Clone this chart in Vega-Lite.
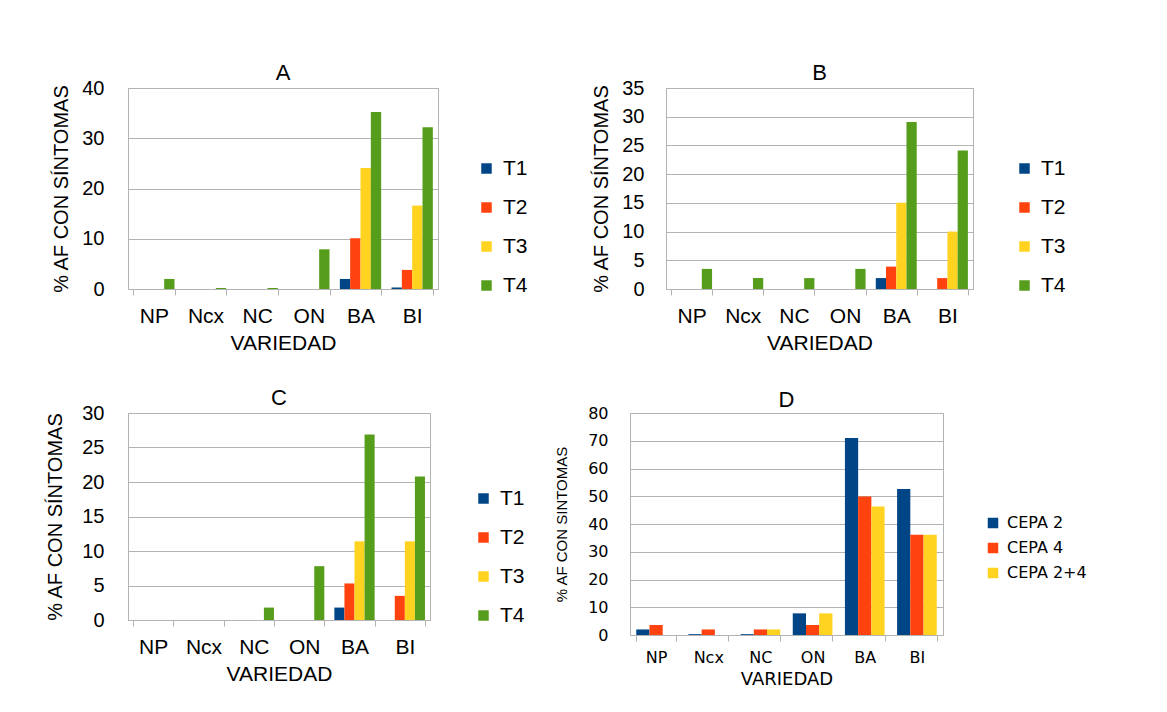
{
  "$schema": "https://vega.github.io/schema/vega-lite/v6.json",
  "background": "white",
  "padding": {"left": 45, "top": 61, "right": 5, "bottom": 5},
  "config": {
    "font": "Liberation Sans",
    "view": {"stroke": "#b3b3b3", "strokeWidth": 1},
    "axis": {"labelColor": "#000000", "titleColor": "#000000", "titleFontWeight": "normal", "gridColor": "#b3b3b3", "domainColor": "#b3b3b3", "tickColor": "#b3b3b3"},
    "title": {"fontSize": 22, "fontWeight": "normal", "offset": -7, "color": "#000000"},
    "legend": {"labelColor": "#000000", "symbolType": "square", "symbolStrokeWidth": 0}
  },
  "spacing": 32,
  "resolve": {"scale": {"x": "independent", "y": "independent", "color": "independent", "xOffset": "independent"}, "legend": {"color": "independent"}, "axis": {"x": "independent", "y": "independent"}},
  "vconcat": [
    {
      "spacing": 62,
      "resolve": {"scale": {"x": "independent", "y": "independent", "color": "independent", "xOffset": "independent"}, "legend": {"color": "independent"}},
      "hconcat": [
        {
          "width": 310, "height": 201,
          "title": "A",
          "data": {"values": [
            {"variedad": "NP", "serie": "T4", "valor": 2},
            {"variedad": "Ncx", "serie": "T4", "valor": 0.2},
            {"variedad": "NC", "serie": "T4", "valor": 0.2},
            {"variedad": "ON", "serie": "T4", "valor": 7.9},
            {"variedad": "BA", "serie": "T1", "valor": 2},
            {"variedad": "BA", "serie": "T2", "valor": 10.1},
            {"variedad": "BA", "serie": "T3", "valor": 24.1},
            {"variedad": "BA", "serie": "T4", "valor": 35.2},
            {"variedad": "BI", "serie": "T1", "valor": 0.3},
            {"variedad": "BI", "serie": "T2", "valor": 3.8},
            {"variedad": "BI", "serie": "T3", "valor": 16.6},
            {"variedad": "BI", "serie": "T4", "valor": 32.2}
          ]},
          "mark": {"type": "bar"},
          "encoding": {
            "x": {"field": "variedad", "type": "nominal", "scale": {"domain": ["NP", "Ncx", "NC", "ON", "BA", "BI"], "paddingInner": 0.2, "paddingOuter": 0.1},
              "axis": {"title": "VARIEDAD", "labelAngle": 0, "tickBand": "extent", "labelFontSize": 21, "titleFontSize": 21, "tickSize": 6, "labelPadding": 10, "titlePadding": 6}},
            "xOffset": {"field": "serie", "type": "nominal", "scale": {"domain": ["T1", "T2", "T3", "T4"], "paddingInner": 0, "paddingOuter": 0}},
            "y": {"field": "valor", "type": "quantitative", "scale": {"domain": [0, 40]},
              "axis": {"title": "% AF CON SÍNTOMAS", "values": [0, 10, 20, 30, 40], "grid": true, "domain": false, "ticks": false, "labelFontSize": 20, "titleFontSize": 20, "labelPadding": 24, "titlePadding": 10}},
            "color": {"field": "serie", "type": "nominal", "scale": {"domain": ["T1", "T2", "T3", "T4"], "range": ["#004586", "#ff420e", "#ffd320", "#579d1c"]},
              "legend": {"title": null, "orient": "none", "legendX": 348, "legendY": 70, "labelFontSize": 21, "symbolSize": 110, "rowPadding": 17, "labelOffset": 6}}
          }
        },
        {
          "width": 307, "height": 201,
          "title": "B",
          "data": {"values": [
            {"variedad": "NP", "serie": "T4", "valor": 3.5},
            {"variedad": "Ncx", "serie": "T4", "valor": 1.9},
            {"variedad": "NC", "serie": "T4", "valor": 1.9},
            {"variedad": "ON", "serie": "T4", "valor": 3.5},
            {"variedad": "BA", "serie": "T1", "valor": 1.9},
            {"variedad": "BA", "serie": "T2", "valor": 3.9},
            {"variedad": "BA", "serie": "T3", "valor": 15},
            {"variedad": "BA", "serie": "T4", "valor": 29.1},
            {"variedad": "BI", "serie": "T2", "valor": 1.9},
            {"variedad": "BI", "serie": "T3", "valor": 10},
            {"variedad": "BI", "serie": "T4", "valor": 24.1}
          ]},
          "mark": {"type": "bar"},
          "encoding": {
            "x": {"field": "variedad", "type": "nominal", "scale": {"domain": ["NP", "Ncx", "NC", "ON", "BA", "BI"], "paddingInner": 0.2, "paddingOuter": 0.1},
              "axis": {"title": "VARIEDAD", "labelAngle": 0, "tickBand": "extent", "labelFontSize": 21, "titleFontSize": 21, "tickSize": 6, "labelPadding": 10, "titlePadding": 6}},
            "xOffset": {"field": "serie", "type": "nominal", "scale": {"domain": ["T1", "T2", "T3", "T4"], "paddingInner": 0, "paddingOuter": 0}},
            "y": {"field": "valor", "type": "quantitative", "scale": {"domain": [0, 35]},
              "axis": {"title": "% AF CON SÍNTOMAS", "values": [0, 5, 10, 15, 20, 25, 30, 35], "grid": true, "domain": false, "ticks": false, "labelFontSize": 20, "titleFontSize": 20, "labelPadding": 22, "titlePadding": 10}},
            "color": {"field": "serie", "type": "nominal", "scale": {"domain": ["T1", "T2", "T3", "T4"], "range": ["#004586", "#ff420e", "#ffd320", "#579d1c"]},
              "legend": {"title": null, "orient": "none", "legendX": 348, "legendY": 70, "labelFontSize": 21, "symbolSize": 110, "rowPadding": 17, "labelOffset": 6}}
          }
        }
      ]
    },
    {
      "spacing": 28,
      "resolve": {"scale": {"x": "independent", "y": "independent", "color": "independent", "xOffset": "independent"}, "legend": {"color": "independent"}},
      "hconcat": [
        {
          "width": 302, "height": 207,
          "title": "C",
          "data": {"values": [
            {"variedad": "NC", "serie": "T4", "valor": 1.8},
            {"variedad": "ON", "serie": "T4", "valor": 7.8},
            {"variedad": "BA", "serie": "T1", "valor": 1.8},
            {"variedad": "BA", "serie": "T2", "valor": 5.3},
            {"variedad": "BA", "serie": "T3", "valor": 11.4},
            {"variedad": "BA", "serie": "T4", "valor": 26.9},
            {"variedad": "BI", "serie": "T2", "valor": 3.5},
            {"variedad": "BI", "serie": "T3", "valor": 11.4},
            {"variedad": "BI", "serie": "T4", "valor": 20.8}
          ]},
          "mark": {"type": "bar"},
          "encoding": {
            "x": {"field": "variedad", "type": "nominal", "scale": {"domain": ["NP", "Ncx", "NC", "ON", "BA", "BI"], "paddingInner": 0.2, "paddingOuter": 0.1},
              "axis": {"title": "VARIEDAD", "labelAngle": 0, "tickBand": "extent", "labelFontSize": 21, "titleFontSize": 21, "tickSize": 6, "labelPadding": 10, "titlePadding": 6}},
            "xOffset": {"field": "serie", "type": "nominal", "scale": {"domain": ["T1", "T2", "T3", "T4"], "paddingInner": 0, "paddingOuter": 0}},
            "y": {"field": "valor", "type": "quantitative", "scale": {"domain": [0, 30]},
              "axis": {"title": "% AF CON SÍNTOMAS", "values": [0, 5, 10, 15, 20, 25, 30], "grid": true, "domain": false, "ticks": false, "labelFontSize": 20, "titleFontSize": 20, "labelPadding": 24, "titlePadding": 16}},
            "color": {"field": "serie", "type": "nominal", "scale": {"domain": ["T1", "T2", "T3", "T4"], "range": ["#004586", "#ff420e", "#ffd320", "#579d1c"]},
              "legend": {"title": null, "orient": "none", "legendX": 345, "legendY": 75, "labelFontSize": 21, "symbolSize": 110, "rowPadding": 17, "labelOffset": 6}}
          }
        },
        {
          "width": 313, "height": 222,
          "title": "D",
          "data": {"values": [
            {"variedad": "NP", "serie": "CEPA 2", "valor": 2},
            {"variedad": "NP", "serie": "CEPA 4", "valor": 3.6},
            {"variedad": "Ncx", "serie": "CEPA 2", "valor": 0.3},
            {"variedad": "Ncx", "serie": "CEPA 4", "valor": 2},
            {"variedad": "NC", "serie": "CEPA 2", "valor": 0.3},
            {"variedad": "NC", "serie": "CEPA 4", "valor": 2},
            {"variedad": "NC", "serie": "CEPA 2+4", "valor": 2},
            {"variedad": "ON", "serie": "CEPA 2", "valor": 7.8},
            {"variedad": "ON", "serie": "CEPA 4", "valor": 3.6},
            {"variedad": "ON", "serie": "CEPA 2+4", "valor": 7.8},
            {"variedad": "BA", "serie": "CEPA 2", "valor": 71},
            {"variedad": "BA", "serie": "CEPA 4", "valor": 49.9},
            {"variedad": "BA", "serie": "CEPA 2+4", "valor": 46.3},
            {"variedad": "BI", "serie": "CEPA 2", "valor": 52.6},
            {"variedad": "BI", "serie": "CEPA 4", "valor": 36.1},
            {"variedad": "BI", "serie": "CEPA 2+4", "valor": 36.1}
          ]},
          "mark": {"type": "bar"},
          "encoding": {
            "x": {"field": "variedad", "type": "nominal", "scale": {"domain": ["NP", "Ncx", "NC", "ON", "BA", "BI"], "paddingInner": 0.24, "paddingOuter": 0.12},
              "axis": {"title": "VARIEDAD", "labelAngle": 0, "tickBand": "extent", "labelFont": "DejaVu Sans", "titleFont": "DejaVu Sans", "labelFontSize": 16, "titleFontSize": 18, "tickSize": 6, "labelPadding": 8, "titlePadding": 5}},
            "xOffset": {"field": "serie", "type": "nominal", "scale": {"domain": ["CEPA 2", "CEPA 4", "CEPA 2+4"], "paddingInner": 0, "paddingOuter": 0}},
            "y": {"field": "valor", "type": "quantitative", "scale": {"domain": [0, 80]},
              "axis": {"title": "% AF CON SINTOMAS", "values": [0, 10, 20, 30, 40, 50, 60, 70, 80], "grid": true, "domain": false, "ticks": false, "labelFont": "DejaVu Sans", "labelFontSize": 16, "titleFontSize": 15, "labelPadding": 22, "titlePadding": 18}},
            "color": {"field": "serie", "type": "nominal", "scale": {"domain": ["CEPA 2", "CEPA 4", "CEPA 2+4"], "range": ["#004586", "#ff420e", "#ffd320"]},
              "legend": {"title": null, "orient": "none", "legendX": 355, "legendY": 102, "labelFont": "DejaVu Sans", "labelFontSize": 16, "symbolSize": 110, "rowPadding": 9, "labelOffset": 6}}
          }
        }
      ]
    }
  ]
}
